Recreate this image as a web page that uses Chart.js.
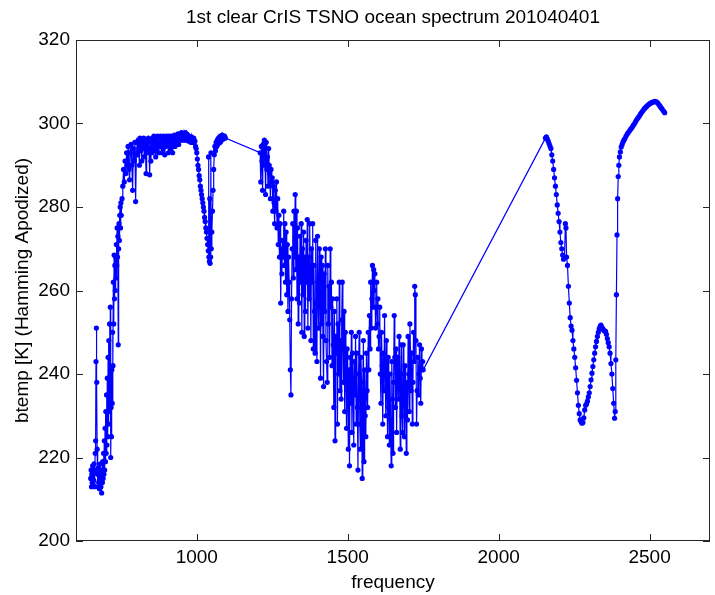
<!DOCTYPE html>
<html>
<head>
<meta charset="utf-8">
<title>1st clear CrIS TSNO ocean spectrum</title>
<script src="https://cdn.jsdelivr.net/npm/chart.js@4.4.1/dist/chart.umd.min.js"></script>
<style>
  body { margin: 0; background: #fff; }
  canvas { display: block; }
</style>
</head>
<body>
<canvas id="spectrum" width="715" height="595"></canvas>
<script>
'use strict';

// ***** DATA *****
let chartTitle = '1st clear CrIS TSNO ocean spectrum 201040401';
let xTicks = [1000, 1500, 2000, 2500];
let yTicks = [200, 220, 240, 260, 280, 300, 320];

// long wave band
let lwFreq = [648.75, 650, 651.25, 652.5, 653.75, 655, 656.25, 657.5, 658.75, 660, 661.25, 662.5, 663.75, 665, 666.25, 667.5, 668.75, 670,
  671.25, 672.5, 673.75, 675, 676.25, 677.5, 678.75, 680, 681.25, 682.5, 683.75, 685, 686.25, 687.5, 688.75, 690, 691.25, 692.5, 693.75, 695,
  696.25, 697.5, 698.75, 700, 701.25, 702.5, 703.75, 705, 706.25, 707.5, 708.75, 710, 711.25, 712.5, 713.75, 715, 716.25, 717.5, 718.75, 720,
  721.25, 722.5, 723.75, 725, 726.25, 727.5, 728.75, 730, 731.25, 732.5, 733.75, 735, 736.25, 737.5, 738.75, 740, 741.25, 742.5, 743.75, 745,
  746.25, 747.5, 748.75, 750, 752.5, 755, 757.5, 760, 762.5, 765, 767.5, 770, 772.5, 775, 777.5, 780, 782.5, 785, 787.5, 790, 792.5, 795, 797.5,
  800, 802, 804, 806, 808, 810, 812, 814, 816, 818, 820, 822, 824, 826, 828, 830, 832, 834, 836, 838,
  840, 842, 844, 846, 848, 850, 852, 854, 856, 858, 860, 862, 864, 866, 868, 870, 872, 874, 876, 878,
  880, 882, 884, 886, 888, 890, 892, 894, 896, 898, 900, 902, 904, 906, 908, 910, 912, 914, 916, 918,
  920, 922, 924, 926, 928, 930, 932, 934, 936, 938, 940, 942, 944, 946, 948, 950, 952, 954, 956, 958,
  960, 962, 964, 966, 968, 970, 972, 974, 976, 978, 980, 982, 984, 986, 988, 990, 992, 994, 996, 998,
  1000, 1002, 1004, 1006, 1008, 1010, 1012, 1014, 1016, 1018, 1020, 1022, 1024, 1026, 1028, 1030, 1032, 1034, 1036, 1038,
  1039, 1040, 1042, 1043, 1044, 1046, 1047, 1048, 1050, 1052, 1054, 1056, 1058, 1060, 1062, 1064, 1066, 1068, 1070, 1072,
  1074, 1076, 1078, 1080, 1082, 1084, 1086, 1088, 1090, 1092, 1095];
let lwTemp = [215, 217, 213, 216, 214, 218, 213.5, 216.5, 214.5, 218.5, 213, 217, 221, 224, 243, 251, 238, 222,
  216, 213, 217.5, 214, 216, 212.5, 217, 214, 218.5, 213, 216, 211.5, 217, 214, 219, 215, 221, 216, 224, 217,
  227, 219, 231, 221, 235, 223, 239, 225, 244, 228, 248, 231, 252, 235, 256, 220, 232, 225, 241, 233,
  250, 242, 262, 252, 268.5, 258, 266, 260, 268, 263, 271, 266, 275, 268, 273, 247, 270, 276, 272, 278,
  280, 275, 281, 278, 282, 285, 289, 286, 291, 288, 293, 290, 294.5, 289, 286.5, 293, 295, 290, 284, 294, 291, 295.5, 281.3,
  293, 295.5, 292.5, 296, 294, 290, 296.5, 293.5, 295, 291, 296, 294, 296.5, 292, 295, 294.5, 288, 294, 296, 293,
  296.5, 294, 287.7, 296, 291, 295.5, 293, 296.5, 294, 297, 293.5, 296, 292, 296.5, 294, 297, 295, 293, 296.5, 294.5,
  297, 295, 293, 296.5, 294, 297, 295.5, 292.5, 296, 294.5, 297, 295, 296.5, 293, 297, 295, 296.5, 294, 297, 295.5,
  293, 296.5, 295, 297.2, 294.5, 296.8, 295.5, 297, 296, 297.5, 295, 297, 296.5, 297.5, 296, 297.8, 296.5, 297.4, 296, 297.6,
  296.5, 297.8, 296, 297.5, 296.5, 297.3, 295.8, 297, 296.5, 296.8, 295.5, 296.8, 295.5, 296.5, 295.5, 296.5, 295.5, 295.8, 294.5, 294,
  293, 291.5, 290, 289, 287.5, 286.5, 285, 284, 283, 282, 281, 280, 279, 277.5, 276.5, 275, 274, 272.5, 271, 269.5,
  292, 268, 267, 282, 266.5, 268, 293, 270, 274, 279, 284, 289, 292.5, 294.5, 293.5, 295.5, 294.5, 296, 295, 296.5,
  295.5, 296.8, 295.5, 297, 296, 297.2, 296.2, 297, 296.5, 297, 296.5];

// mid wave band
let mwFreq = [1210, 1212, 1214, 1216, 1218, 1220, 1222, 1224, 1226, 1228, 1230, 1232, 1234, 1236, 1238, 1240, 1242, 1244, 1246, 1248,
  1250, 1252, 1254, 1256, 1258, 1260, 1262, 1264, 1266, 1268, 1270, 1272, 1274, 1276, 1278, 1280, 1282, 1284, 1286, 1288,
  1290, 1292, 1294, 1296, 1298, 1300, 1302, 1304, 1306, 1308, 1310, 1312, 1314, 1316, 1318, 1320, 1322, 1324, 1326, 1328,
  1330, 1332, 1334, 1336, 1338, 1340, 1342, 1344, 1346, 1348, 1350, 1352, 1354, 1356, 1358, 1360, 1362, 1364, 1366, 1368,
  1370, 1372, 1374, 1376, 1378, 1380, 1382, 1384, 1386, 1388, 1390, 1392, 1394, 1396, 1398, 1400, 1402, 1404, 1406, 1408,
  1410, 1412, 1414, 1416, 1418, 1420, 1422, 1424, 1426, 1428, 1430, 1432, 1434, 1436, 1438, 1440, 1442, 1444, 1446, 1448,
  1450, 1452, 1454, 1456, 1458, 1460, 1462, 1464, 1466, 1468, 1470, 1472, 1474, 1476, 1478, 1480, 1482, 1484, 1486, 1488,
  1490, 1492, 1494, 1496, 1498, 1500, 1502, 1504, 1506, 1508, 1510, 1512, 1514, 1516, 1518, 1520, 1522, 1524, 1526, 1528,
  1530, 1532, 1534, 1536, 1538, 1540, 1542, 1544, 1546, 1548, 1550, 1552, 1554, 1556, 1558, 1560, 1562, 1564, 1566, 1568,
  1570, 1572, 1574, 1576, 1578, 1580, 1582, 1584, 1586, 1588, 1590, 1592, 1594, 1596, 1598, 1600, 1602, 1604, 1606, 1608,
  1610, 1612, 1614, 1616, 1618, 1620, 1622, 1624, 1626, 1628, 1630, 1632, 1634, 1636, 1638, 1640, 1642, 1644, 1646, 1648,
  1650, 1652, 1654, 1656, 1658, 1660, 1662, 1664, 1666, 1668, 1670, 1672, 1674, 1676, 1678, 1680, 1682, 1684, 1686, 1688,
  1690, 1692, 1694, 1696, 1698, 1700, 1702, 1704, 1706, 1708, 1710, 1712, 1714, 1716, 1718, 1720, 1722, 1724, 1726, 1728,
  1730, 1732, 1734, 1736, 1738, 1740, 1742, 1744, 1746, 1748, 1750];
let mwTemp = [293, 286, 294.5, 291, 284, 295, 290, 296, 293, 283, 295.5, 289, 292, 285, 294, 290, 288, 282, 289, 286,
  287, 279, 285, 281, 276, 284, 279, 286, 275, 282, 271, 278, 268, 276, 257, 270, 264, 272, 268, 279,
  266, 276, 262, 274, 259, 271, 255, 268, 262, 253, 241, 235, 258, 270, 276, 263, 279, 268, 283, 265,
  279, 258, 275, 252, 268, 257, 273, 262, 276, 250, 270, 259, 274, 249, 268, 255, 272, 262, 277, 251,
  268, 258, 276, 264, 248, 270, 262, 276, 246, 266, 255, 245, 272, 257, 243, 273, 260, 251, 270, 262,
  239, 268, 252, 266, 249, 237, 264, 255, 270, 248, 243, 238, 266, 252, 261, 244, 270, 256, 262, 242,
  258, 247, 232, 255, 224, 249, 245, 258, 228, 252, 240, 262, 236, 248, 234, 253, 262, 246, 238, 255,
  231, 250, 244, 227, 246, 236, 222, 241, 218, 244, 233, 250, 226, 245, 238, 223, 243, 235, 249, 228,
  245, 232, 217, 240, 250, 228, 222, 244, 236, 215, 238, 248, 219, 241, 230, 225, 245, 236, 232, 250,
  241, 254, 246, 262, 251, 258, 266, 256, 265, 260, 264, 251, 256, 262, 252, 258, 246, 249, 256, 240,
  233, 250, 242, 228, 245, 236, 254, 241, 230, 248, 237, 225, 244, 232, 223, 240, 229, 218, 243, 234,
  221, 238, 254, 244, 232, 246, 226, 240, 244, 234, 249, 238, 222, 240, 247, 230, 226, 247, 236, 225,
  242, 233, 221, 238, 229, 249, 240, 231, 252, 245, 236, 245, 228, 238, 250, 243, 261, 259, 248, 228,
  236, 244, 235, 240, 247, 239, 233, 246, 241, 243, 241];

// short wave band
let swFreq = [2155, 2158, 2161, 2164, 2167, 2170, 2173, 2176, 2179, 2182, 2185, 2188, 2191, 2194, 2197, 2200, 2203, 2206, 2209, 2212, 2215,
  2218, 2221, 2223, 2225, 2228, 2231, 2234, 2237, 2240, 2243, 2246, 2249, 2252, 2255, 2258, 2261, 2264, 2267, 2270, 2273, 2276, 2279, 2282,
  2285, 2288, 2291, 2294, 2297, 2300, 2303, 2306, 2309, 2312, 2315, 2318, 2321, 2324, 2327, 2330, 2333, 2336, 2339, 2342, 2345, 2348, 2351,
  2354, 2357, 2360, 2363, 2366, 2369, 2372, 2375, 2378, 2381, 2384, 2386, 2388, 2390, 2392, 2394, 2396, 2398, 2400, 2403, 2406, 2409, 2412,
  2415, 2418, 2422, 2426, 2430, 2434, 2438, 2442, 2446, 2450, 2454, 2458, 2462, 2466, 2470, 2474, 2478, 2482, 2486, 2490, 2494, 2498, 2502,
  2506, 2510, 2514, 2518, 2522, 2526, 2530, 2534, 2538, 2542, 2546, 2550];
let swTemp = [296.5, 296.8, 296.3, 295.8, 295.2, 294.6, 294, 292.5, 291, 289, 287, 285, 283, 280.5, 278.5, 276.5, 274, 271.5, 270, 268.5, 267.5,
  268, 276, 275, 268, 266, 261, 257, 253.5, 251.5, 250.5, 248, 246, 244, 241.5, 238.5, 235.5, 232.5, 230.5, 229, 228.6, 228.2, 228.4, 229.5,
  231.4, 232.5, 232.8, 233.5, 234.5, 235.5, 237, 238.6, 240.2, 241.8, 243.4, 245, 246.5, 247.8, 249, 250, 250.8, 251.4, 251.7, 251.2, 250.8, 250.5, 250.3,
  250.2, 249.5, 248.5, 247.5, 246.5, 245, 242.5, 240, 236.5, 233, 229.4, 231, 243.4, 259, 273.3, 282, 287.3, 290, 292, 293.2, 294.4, 295, 295.6,
  296, 296.4, 297, 297.5, 297.9, 298.3, 298.7, 299.1, 299.6, 300, 300.5, 301, 301.4, 301.8, 302.3, 302.7, 303.1, 303.5, 303.8, 304.1, 304.4, 304.6, 304.8,
  305, 305.1, 305.2, 305.3, 305.2, 305, 304.6, 304.2, 303.8, 303.4, 303, 302.6];

// ***** STYLE *****
const FONT = 'Liberation Sans, Arial, Helvetica, sans-serif';
const FONT_SIZE = 19;
const TICK_LEN = 7;

// **** HELPERS ****
function toPoints(freqs, temps) {
  let pts = [];
  for (let i = 0; i < freqs.length; i++) {
    pts.push({ x: freqs[i], y: temps[i] });
  }
  return pts;
}

// title centred over the plot box, inward ticks on all four sides, and the box itself
let boxTicks = {
  id: 'boxTicks',
  afterDraw(chart) {
    let c = chart.ctx;
    let a = chart.chartArea;
    let xs = chart.scales.x;
    let ys = chart.scales.y;
    c.save();
    c.fillStyle = '#000';
    c.font = FONT_SIZE + 'px ' + FONT;
    c.textAlign = 'center';
    c.textBaseline = 'middle';
    c.fillText(chartTitle, (a.left + a.right) / 2, 18);

    c.strokeStyle = '#262626';
    c.lineWidth = 1;
    c.strokeRect(a.left + 0.5, a.top + 0.5, a.right - a.left - 1, a.bottom - a.top - 1);
    c.beginPath();
    xs.ticks.forEach(t => {
      let px = Math.round(xs.getPixelForValue(t.value)) + 0.5;
      c.moveTo(px, a.bottom); c.lineTo(px, a.bottom - TICK_LEN);
      c.moveTo(px, a.top); c.lineTo(px, a.top + TICK_LEN);
    });
    ys.ticks.forEach(t => {
      let py = Math.round(ys.getPixelForValue(t.value)) + 0.5;
      c.moveTo(a.left, py); c.lineTo(a.left + TICK_LEN, py);
      c.moveTo(a.right, py); c.lineTo(a.right - TICK_LEN, py);
    });
    c.stroke();
    c.restore();
  }
};

// **** CHART ****
let ctx = document.getElementById('spectrum');

let allPoints = toPoints(lwFreq, lwTemp)
  .concat(toPoints(mwFreq, mwTemp))
  .concat(toPoints(swFreq, swTemp));

let chartObj = {
  type: 'scatter',
  data: {
    datasets: [{
      label: 'btemp',
      data: allPoints,
      showLine: true,
      borderColor: '#0000ff',
      backgroundColor: '#0000ff',
      borderWidth: 1.2,
      pointRadius: 2.6,
      pointBorderWidth: 0,
      pointHoverRadius: 2.6
    }]
  },
  options: {
    responsive: false,
    animation: false,
    events: [],
    layout: { padding: { left: 0, right: 5, top: 40, bottom: 0 } },
    plugins: {
      legend: { display: false },
      tooltip: { enabled: false },
      title: { display: false }
    },
    scales: {
      x: {
        type: 'linear',
        min: 600,
        max: 2700,
        grid: { display: false, drawTicks: false },
        border: { display: false },
        afterBuildTicks: scale => { scale.ticks = xTicks.map(v => ({ value: v })); },
        afterFit: scale => { scale.height = 54; },
        ticks: {
          color: '#000',
          padding: 5,
          maxRotation: 0,
          font: { family: FONT, size: FONT_SIZE },
          callback: v => String(v)
        },
        title: {
          display: true,
          text: 'frequency',
          color: '#000',
          font: { family: FONT, size: FONT_SIZE },
          padding: { top: 0, bottom: 1 }
        }
      },
      y: {
        type: 'linear',
        min: 200,
        max: 320,
        grid: { display: false, drawTicks: false },
        border: { display: false },
        afterBuildTicks: scale => { scale.ticks = yTicks.map(v => ({ value: v })); },
        afterFit: scale => { scale.width = 76; },
        ticks: {
          color: '#000',
          padding: 6,
          font: { family: FONT, size: FONT_SIZE },
          callback: v => String(v)
        },
        title: {
          display: true,
          text: 'btemp [K] (Hamming Apodized)',
          color: '#000',
          font: { family: FONT, size: FONT_SIZE },
          padding: { top: 11, bottom: 0 }
        }
      }
    }
  },
  plugins: [boxTicks]
};

new Chart(ctx, chartObj);
</script>
</body>
</html>
